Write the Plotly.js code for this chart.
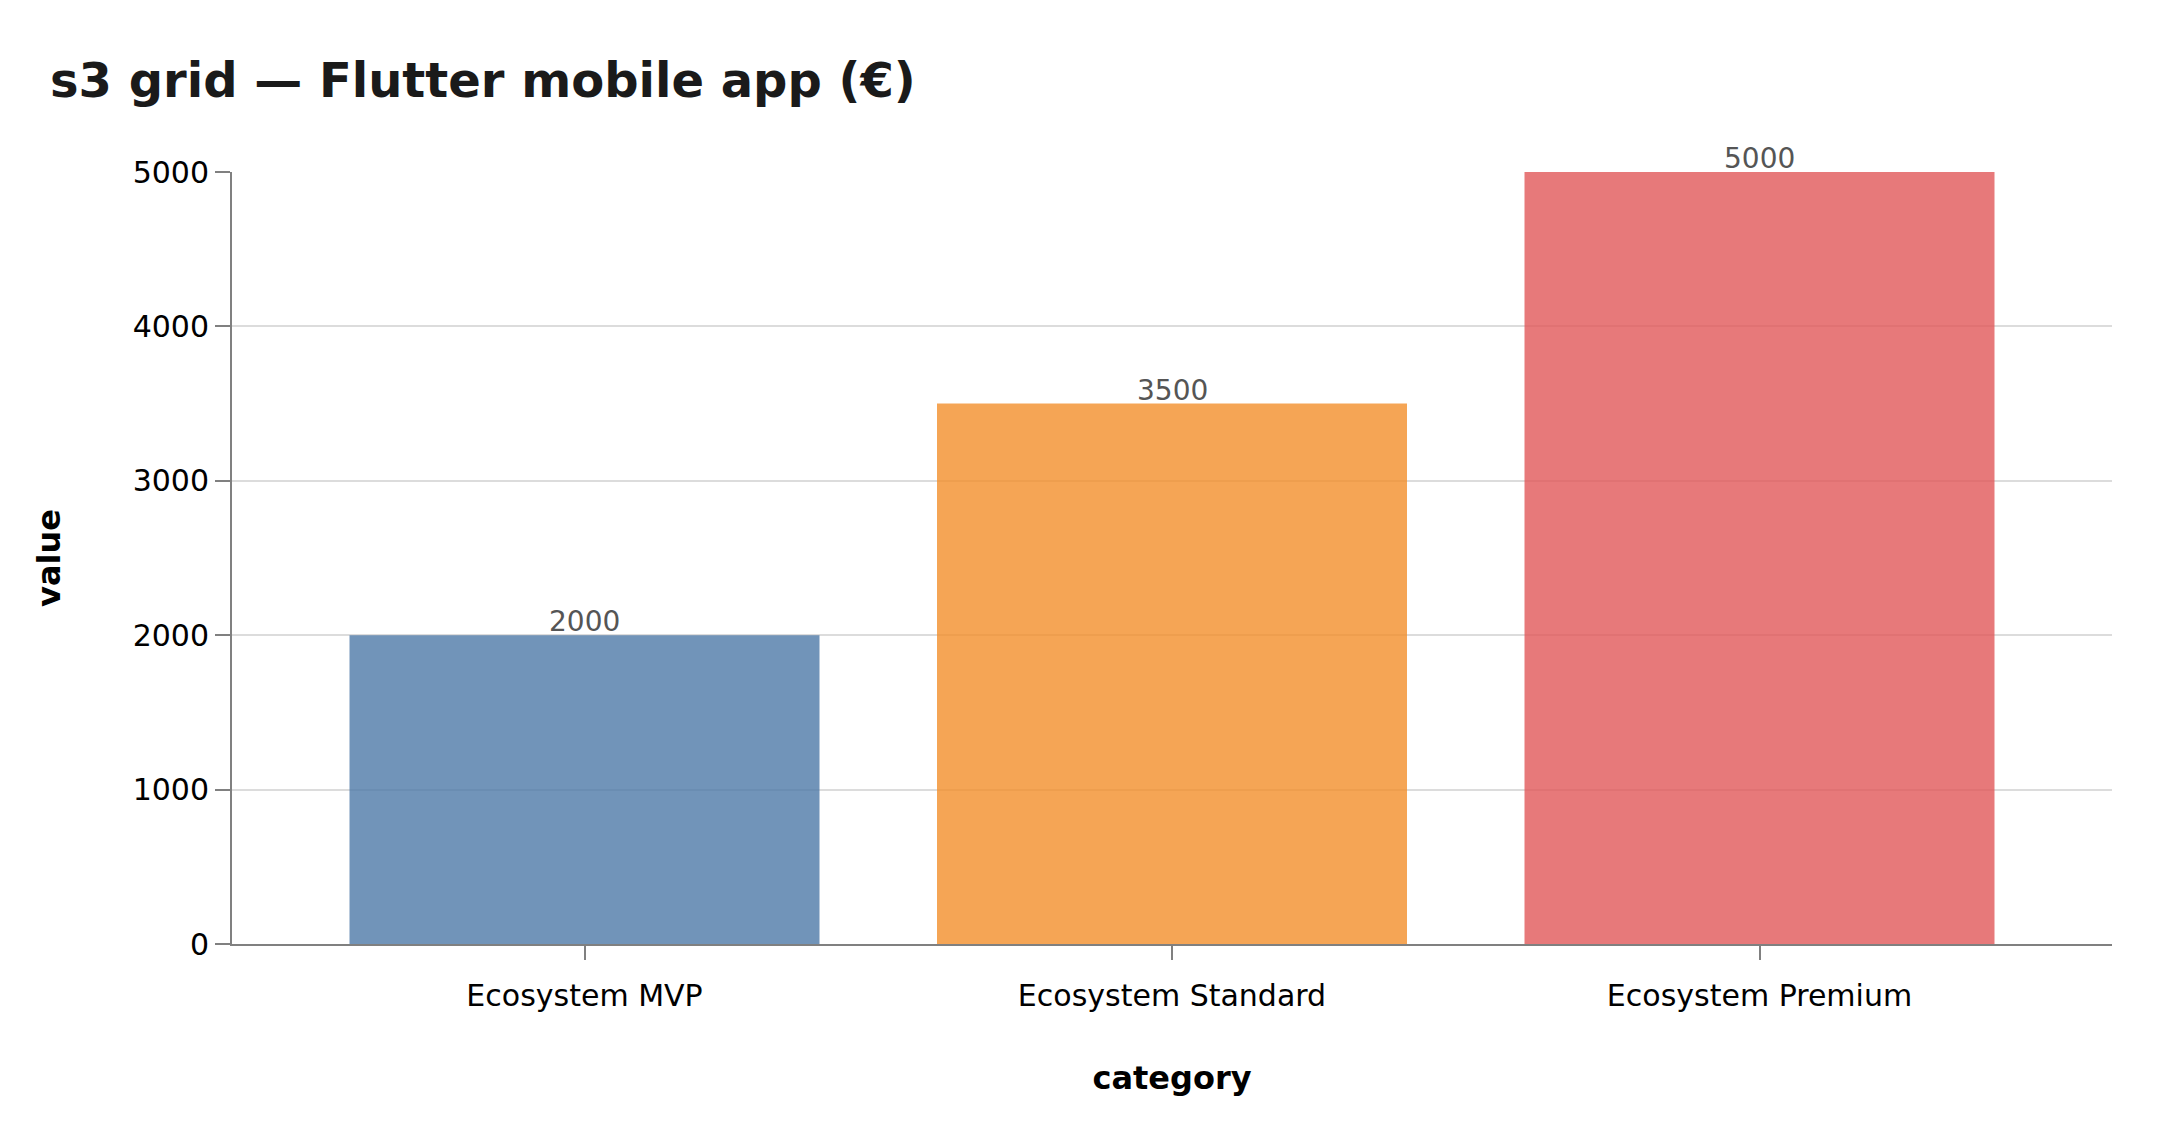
<!DOCTYPE html>
<html>
<head>
<meta charset="utf-8">
<script src="https://cdn.plot.ly/plotly-3.0.1.min.js"></script>
<style>
  html, body { margin: 0; padding: 0; background: #ffffff; }
  #barPlot { width: 2160px; height: 1140px; }
</style>
</head>
<body>
<div id="barPlot"></div>
<script>
// chart data
var categories = ["Ecosystem MVP", "Ecosystem Standard", "Ecosystem Premium"];
var values = [2000, 3500, 5000];
var barColors = ["#4e79a7", "#f28e2b", "#e15759"];
var yTicks = [0, 1000, 2000, 3000, 4000, 5000];

var cb_barPlot = function () {
  let trace1 = {
    x: categories,
    y: values,
    type: "bar",
    marker: { color: barColors, opacity: 0.8, line: { width: 0 } },
    hoverinfo: "x+y",
  };

  let data = [trace1];

  // value labels just above each bar
  let labels = categories.map(function (c, i) {
    return {
      x: c,
      y: values[i],
      xref: "x",
      yref: "y",
      text: String(values[i]),
      showarrow: false,
      xanchor: "center",
      yanchor: "bottom",
      yshift: -5,
      font: { family: "DejaVu Sans", size: 28, color: "#555555" },
    };
  });

  let layout = {
    width: 2160,
    height: 1140,
    paper_bgcolor: "#ffffff",
    plot_bgcolor: "#ffffff",
    font: { family: "DejaVu Sans", size: 30, color: "#000000" },
    margin: { l: 232, r: 48, t: 172, b: 196, pad: 0 },
    showlegend: false,
    bargap: 0.2,
    annotations: labels,

    title: {
      text: "<b>s3 grid — Flutter mobile app (€)</b>",
      font: { family: "DejaVu Sans", size: 48, color: "#1a1a1a" },
      xref: "container",
      yref: "container",
      x: 50 / 2160,
      xanchor: "left",
      y: 1 - 80 / 1140,
      yanchor: "middle",
    },

    xaxis: {
      type: "category",
      range: [-0.6, 2.6],
      showline: true,
      linecolor: "#808080",
      linewidth: 2,
      ticks: "outside",
      ticklen: 14,
      tickwidth: 2,
      tickcolor: "#808080",
      ticklabelstandoff: 10,
      showgrid: false,
      zeroline: false,
      tickfont: { family: "DejaVu Sans", size: 30, color: "#000000" },
      title: {
        text: "<b>category</b>",
        font: { family: "DejaVu Sans", size: 32, color: "#000000" },
        standoff: 55,
      },
      automargin: false,
    },
    yaxis: {
      range: [0, 5000],
      tickvals: yTicks,
      showline: true,
      linecolor: "#808080",
      linewidth: 2,
      ticks: "outside",
      ticklen: 15,
      tickwidth: 2,
      tickcolor: "#808080",
      showgrid: true,
      gridcolor: "#dcdcdc",
      gridwidth: 2,
      zeroline: false,
      tickfont: { family: "DejaVu Sans", size: 30, color: "#000000" },
      title: {
        text: "<b>value</b>",
        font: { family: "DejaVu Sans", size: 32, color: "#000000" },
        standoff: 62,
      },
      automargin: false,
    },
  };
  // end layout

  let config = {
    responsive: false,
    displayModeBar: false,
    displaylogo: false,
  };

  Plotly.newPlot("barPlot", data, layout, config);
};

if (document.readyState === "complete" || document.readyState !== "loading") {
  cb_barPlot();
} else {
  document.addEventListener("DOMContentLoaded", cb_barPlot);
}
</script>
</body>
</html>
